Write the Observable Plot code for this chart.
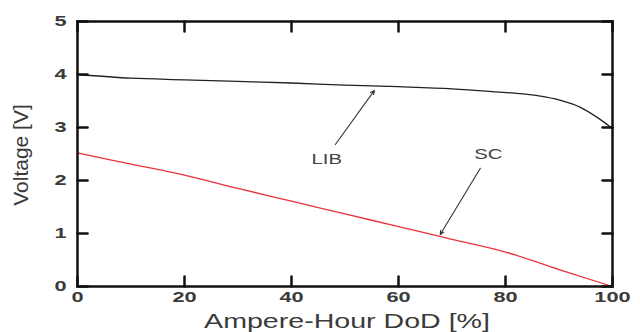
<!DOCTYPE html>
<html>
<head>
<meta charset="utf-8">
<script src="https://cdn.jsdelivr.net/npm/d3@7"></script>
<script src="https://cdn.jsdelivr.net/npm/@observablehq/plot@0.6"></script>
<style>
  html, body { margin: 0; padding: 0; background: #fff; }
  #chart svg { display: block; }
</style>
</head>
<body>
<div id="chart"></div>
<script>
// Data
const dod = [0, 10, 20, 30, 40, 50, 60, 70, 77, 86, 90, 94, 97, 100];
const libVoltage = [4.0, 3.93, 3.9, 3.87, 3.84, 3.8, 3.77, 3.73, 3.68, 3.6, 3.52, 3.38, 3.2, 2.98];
const scDod = [0, 10, 20, 30, 40, 50, 60, 70, 80, 90, 100];
const scVoltage = [2.52, 2.31, 2.1, 1.85, 1.61, 1.37, 1.13, 0.89, 0.65, 0.32, 0.0];
const xTicks = [0, 20, 40, 60, 80, 100];
const yTicks = [0, 1, 2, 3, 4, 5];
const annLabels = ["LIB", "SC"];
const annText = [[46.6, 2.4], [76.8, 2.49]];
const annFrom = [[48.2, 2.68], [75.3, 2.23]];
const annTo = [[55.5, 3.7], [67.8, 0.98]];

const lib = dod.map((d, i) => ({x: d, y: libVoltage[i]}));
const sc = scDod.map((d, i) => ({x: d, y: scVoltage[i]}));
const ann = annLabels.map((t, i) => ({
  label: t, tx: annText[i][0], ty: annText[i][1],
  x1: annFrom[i][0], y1: annFrom[i][1], x2: annTo[i][0], y2: annTo[i][1]
}));

const textColor = "#3a3a3a";
const font = "Liberation Sans, Arial, Helvetica, sans-serif";
const tickShape = {draw(context, l) { context.moveTo(0, 0); context.lineTo(0, -l); }};
const tickStyle = {length: 10, anchor: "start", shape: tickShape, stroke: "#111", strokeWidth: 2.5};

const chart = Plot.plot({
  width: 640,
  height: 332,
  marginLeft: 77,
  marginRight: 28,
  marginTop: 21,
  marginBottom: 46,
  style: {fontFamily: font, fontSize: "15px", color: textColor, background: "#fff"},
  x: {domain: [0, 100]},
  y: {domain: [0, 5]},
  marks: [
    Plot.line(lib, {x: "x", y: "y", stroke: "#222", strokeWidth: 1.3, curve: "monotone-x"}),
    Plot.line(sc, {x: "x", y: "y", stroke: "#e8333c", strokeWidth: 1.3, curve: "monotone-x"}),
    Plot.arrow(ann, {x1: "x1", y1: "y1", x2: "x2", y2: "y2", stroke: "#333", strokeWidth: 1.1, headLength: 6, headAngle: 50}),
    Plot.text(ann, {x: "tx", y: "ty", text: "label", fill: "#444", fontSize: 14}),
    Plot.vectorX(xTicks, {x: d => d, frameAnchor: "bottom", rotate: 0, ...tickStyle}),
    Plot.vectorX(xTicks, {x: d => d, frameAnchor: "top", rotate: 180, ...tickStyle}),
    Plot.vectorY(yTicks, {y: d => d, frameAnchor: "left", rotate: 90, ...tickStyle}),
    Plot.vectorY(yTicks, {y: d => d, frameAnchor: "right", rotate: -90, ...tickStyle}),
    Plot.axisX(xTicks, {anchor: "bottom", tickSize: 0, tickPadding: 5, tickFormat: d3.format("d"), fill: textColor, fontSize: 15, fontWeight: "bold", label: null}),
    Plot.axisY(yTicks, {anchor: "left", tickSize: 0, tickPadding: 11, tickFormat: d3.format("d"), fill: textColor, fontSize: 15, fontWeight: "bold", label: null}),
    Plot.frame({stroke: "#111", strokeWidth: 2.5})
  ]
});

// Horizontally widen text, as in the reference rendering
function stretch(selection, sx) {
  selection.each(function () {
    const t = d3.select(this);
    const tr = t.attr("transform") || "";
    t.attr("transform", `${tr} scale(${sx},1)`);
  });
}

const svg = d3.select(chart);
stretch(svg.selectAll('g[aria-label="x-axis tick label"] text'), 1.45);
stretch(svg.selectAll('g[aria-label="y-axis tick label"] text'), 1.45);
stretch(svg.selectAll('g[aria-label="text"] text'), 1.45);

// Axis titles as real SVG text
svg.append("text")
  .attr("transform", "translate(347,328) scale(1.43,1)")
  .attr("text-anchor", "middle")
  .attr("fill", textColor)
  .style("font-family", font).style("font-size", "20px")
  .text("Ampere-Hour DoD [%]");
svg.append("text")
  .attr("transform", "translate(28,155) rotate(-90)")
  .attr("text-anchor", "middle")
  .attr("fill", textColor)
  .style("font-family", font).style("font-size", "21px")
  .text("Voltage [V]");

document.getElementById("chart").appendChild(chart);
</script>
</body>
</html>
